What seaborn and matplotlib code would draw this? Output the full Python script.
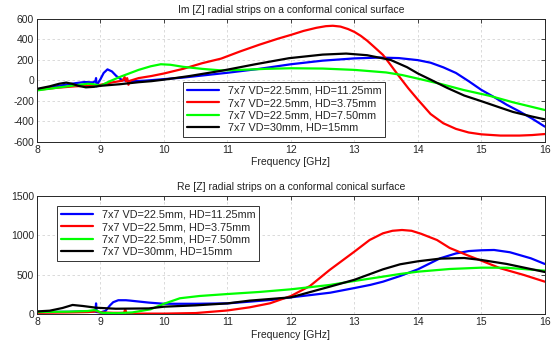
import numpy as np
import pandas as pd
import matplotlib
matplotlib.use("Agg")
import matplotlib.pyplot as plt
import seaborn as sns

# ---------------- data ----------------
labels = ["7x7 VD=22.5mm, HD=11.25mm", "7x7 VD=22.5mm, HD=3.75mm",
          "7x7 VD=22.5mm, HD=7.50mm", "7x7 VD=30mm, HD=15mm"]
colors = ["#0000ff", "#ff0000", "#00ff00", "#000000"]

# Im[Z]
im_blue_f = [8.0, 8.2, 8.4, 8.6, 8.75, 8.88, 8.92, 8.93, 8.94, 8.96, 9.0, 9.05, 9.11, 9.18, 9.25, 9.33, 9.4, 9.5,
             9.7, 10.0, 10.3, 10.6, 11.0, 11.5, 12.0, 12.5, 13.0, 13.4, 13.7, 14.0, 14.2, 14.4, 14.6, 14.8, 15.0,
             15.2, 15.4, 15.6, 15.8, 16.0]
im_blue_v = [-90, -70, -50, -30, -18, -22, -10, 20, -60, -30, 10, 70, 105, 85, 40, 5, -5, -10,
             -5, 10, 25, 45, 72, 110, 155, 190, 212, 220, 215, 195, 170, 125, 70, -10, -95,
             -165, -240, -305, -375, -453]

im_red_f = [8.0, 8.3, 8.6, 8.8, 9.0, 9.2, 9.35, 9.38, 9.40, 9.42, 9.44, 9.47, 9.6, 9.8, 10.0, 10.3, 10.6, 10.9,
            11.2, 11.5, 11.8, 12.0, 12.2, 12.4, 12.55, 12.66, 12.78, 12.9, 13.0, 13.1, 13.2, 13.3, 13.45, 13.55,
            13.7, 13.85, 14.0, 14.2, 14.4, 14.6, 14.8, 15.0, 15.3, 15.6, 15.8, 16.0]
im_red_v = [-95, -75, -60, -55, -45, -20, -5, 30, -10, 20, -45, -5, 20, 40, 65, 110, 165, 210,
            280, 345, 405, 441, 480, 510, 526, 530, 522, 498, 470, 432, 385, 330, 246, 165,
            40, -80, -190, -330, -420, -475, -510, -528, -540, -540, -535, -525]

im_green_f = [8.0, 8.3, 8.6, 8.8, 8.9, 9.0, 9.05, 9.13, 9.3, 9.45, 9.6, 9.79, 9.95, 10.1, 10.3, 10.6, 10.9,
              11.2, 11.6, 12.0, 12.5, 13.0, 13.3, 13.5, 13.75, 14.0, 14.36, 14.72, 15.12, 15.5, 16.0]
im_green_v = [-100, -75, -50, -35, -40, -55, -40, -15, 30, 65, 100, 135, 155, 150, 130, 110, 95,
              100, 110, 116, 113, 100, 85, 75, 50, 15, -37, -96, -151, -216, -291]

im_black_f = [8.0, 8.2, 8.35, 8.46, 8.55, 8.65, 8.77, 8.9, 9.0, 9.3, 9.6, 9.8, 10.0, 10.4, 10.92, 11.44, 11.97,
              12.5, 12.87, 13.2, 13.57, 13.83, 14.0, 14.2, 14.46, 14.73, 15.0, 15.27, 15.5, 15.8, 16.0]
im_black_v = [-85, -60, -35, -24, -35, -55, -70, -65, -55, -40, -20, -10, 5, 40, 93, 155, 214,
              249, 259, 243, 197, 126, 65, 5, -75, -150, -205, -262, -310, -355, -382]

# Re[Z]
re_blue_f = [8.0, 8.5, 8.8, 8.92, 8.93, 8.94, 9.0, 9.08, 9.15, 9.2, 9.28, 9.4, 9.47, 9.62, 9.76, 10.0, 10.5,
             11.0, 11.35, 11.7, 12.0, 12.3, 12.62, 13.0, 13.25, 13.45, 13.72, 14.0, 14.35, 14.6, 14.8, 15.0,
             15.2, 15.45, 15.78, 16.0]
re_blue_v = [25, 28, 35, 30, 135, 25, 20, 40, 110, 150, 175, 175, 170, 157, 145, 130, 130,
             135, 157, 180, 212, 240, 271, 330, 370, 411, 483, 568, 708, 770, 800, 810,
             814, 785, 708, 636]

re_red_f = [8.0, 8.5, 8.8, 8.9, 8.93, 8.97, 9.0, 9.2, 9.37, 9.39, 9.41, 9.5, 10.0, 10.5, 11.0, 11.35, 11.67,
            12.0, 12.3, 12.61, 13.0, 13.24, 13.45, 13.6, 13.75, 13.9, 14.05, 14.3, 14.5, 14.77, 15.0, 15.3,
            15.67, 16.0]
re_red_v = [15, 20, 25, 30, 38, 25, 20, 15, 15, 60, 10, 5, 5, 12, 45, 85, 136,
            229, 356, 560, 793, 941, 1026, 1058, 1068, 1058, 1020, 941, 840, 750, 678, 581,
            496, 411]

re_green_f = [8.0, 8.5, 8.8, 8.9, 8.95, 9.02, 9.26, 9.5, 9.79, 10.0, 10.25, 10.56, 11.0, 11.5, 12.0, 12.61,
              13.0, 13.45, 13.72, 14.0, 14.5, 15.0, 15.4, 16.0]
re_green_v = [25, 30, 38, 50, 40, 15, 10, 20, 60, 130, 200, 229, 254, 280, 314, 369,
              420, 475, 509, 538, 572, 589, 588, 551]

re_black_f = [8.0, 8.2, 8.4, 8.56, 8.72, 8.93, 9.24, 9.76, 10.0, 10.5, 11.0, 11.35, 12.0, 12.61, 13.0, 13.45,
              13.72, 14.0, 14.35, 14.73, 15.0, 15.4, 16.0]
re_black_v = [33, 42, 76, 115, 102, 80, 67, 71, 93, 110, 135, 170, 212, 347, 435, 568,
              632, 670, 704, 712, 687, 636, 534]

im_series = [(im_blue_f, im_blue_v), (im_red_f, im_red_v), (im_green_f, im_green_v), (im_black_f, im_black_v)]
re_series = [(re_blue_f, re_blue_v), (re_red_f, re_red_v), (re_green_f, re_green_v), (re_black_f, re_black_v)]

x_ticks = [8, 9, 10, 11, 12, 13, 14, 15, 16]
im_ticks = [-600, -400, -200, 0, 200, 400, 600]
re_ticks = [0, 500, 1000, 1500]

titles = ["Im [Z] radial strips on a conformal conical surface",
          "Re [Z] radial strips on a conformal conical surface"]
xlabel = "Frequency [GHz]"

# ---------------- style ----------------
sns.set_theme(style="white")
plt.rcParams["font.family"] = ["Liberation Sans", "DejaVu Sans"]
plt.rcParams["xtick.direction"] = "in"
plt.rcParams["ytick.direction"] = "in"

fs = 7.5
fig = plt.figure(figsize=(5.55, 3.44), dpi=100)
ax1 = fig.add_axes([0.0667, 0.588, 0.915, 0.358])
ax2 = fig.add_axes([0.0667, 0.0872, 0.915, 0.343])

def draw(ax, series, ticks, ylim, title, leg_anchor):
    for (f, v), c, lab in zip(series, colors, labels):
        df = pd.DataFrame({"f": f, "v": v})
        sns.lineplot(data=df, x="f", y="v", ax=ax, color=c, lw=1.6, label=lab,
                     estimator=None, sort=False)
    ax.set_xlim(8, 16)
    ax.set_ylim(*ylim)
    ax.set_xticks(x_ticks)
    ax.set_yticks(ticks)
    ax.set_xticklabels([str(t) for t in x_ticks])
    ax.set_yticklabels([str(t) for t in ticks])
    ax.tick_params(axis="both", labelsize=fs, length=3, width=0.6, colors="#262626",
                   top=True, right=True, pad=2)
    ax.grid(True, color="#d4d4d4", ls=(0, (3, 3)), lw=0.6)
    for s in ax.spines.values():
        s.set_color("#262626")
        s.set_linewidth(0.7)
    ax.set_title(title, fontsize=fs, pad=4, color="#222222")
    ax.set_xlabel(xlabel, fontsize=fs, labelpad=2, color="#222222")
    ax.set_ylabel("")
    leg = ax.legend(loc="upper left", bbox_to_anchor=leg_anchor, fontsize=7.8,
                    frameon=True, fancybox=False, shadow=False, handlelength=3.0,
                    labelspacing=0.22, borderpad=0.35, handletextpad=0.8,
                    borderaxespad=0.0)
    leg.get_frame().set_edgecolor("#333333")
    leg.get_frame().set_linewidth(0.7)
    leg.get_frame().set_facecolor("white")
    leg.get_frame().set_alpha(1.0)

draw(ax1, im_series, im_ticks, (-600, 600), titles[0], (0.287, 0.485))
draw(ax2, re_series, re_ticks, (0, 1500), titles[1], (0.039, 0.915))

fig.savefig("out.png", dpi=100)
